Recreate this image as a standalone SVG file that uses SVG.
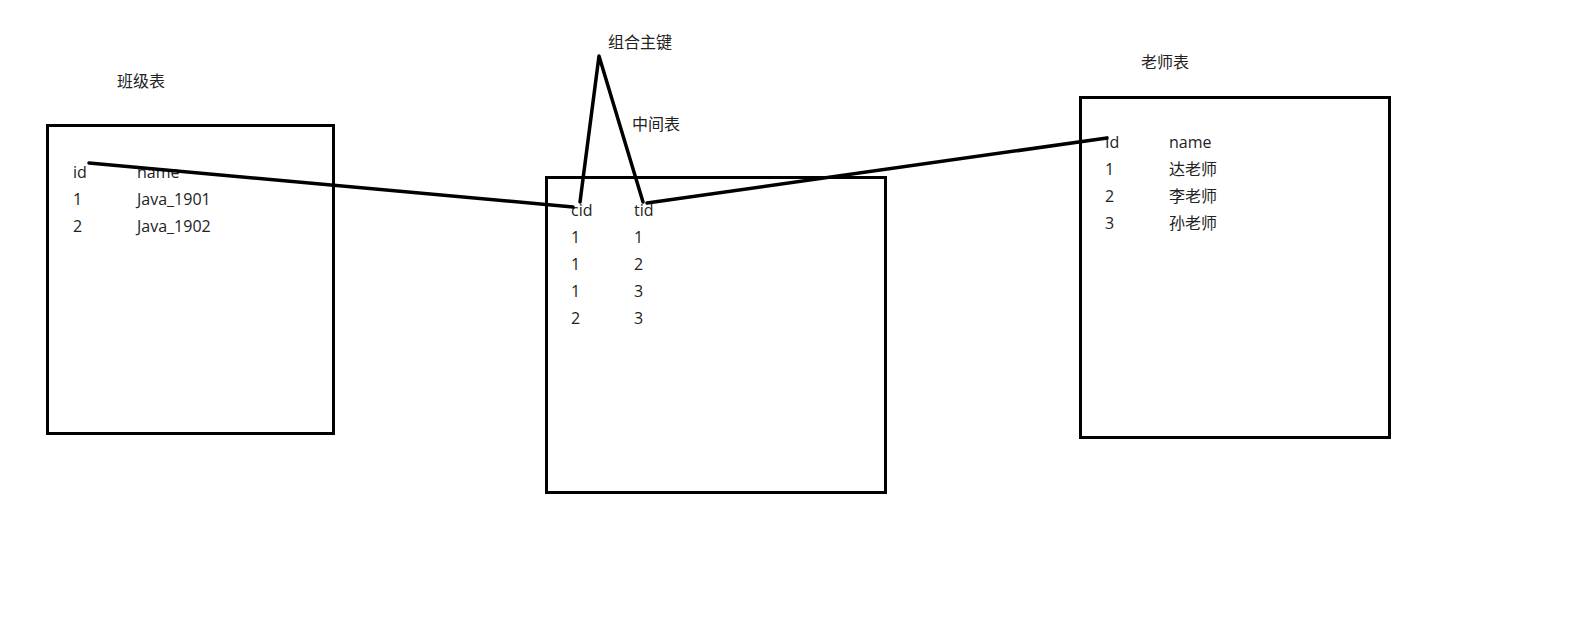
<svg xmlns="http://www.w3.org/2000/svg" width="1573" height="643" viewBox="0 0 1573 643">
<style>
.box{fill:none;stroke:#000;stroke-width:3}
.t{font-family:"Open Sans","Noto Sans CJK SC",sans-serif;font-size:16px;fill:#222}
.c{stroke:#000;stroke-width:3.5;fill:none;stroke-linecap:round;stroke-linejoin:round}
</style>
<rect width="1573" height="643" fill="#fff"/>
<g id="class-table">
<rect class="box" x="47.5" y="125.5" width="286" height="308"/>
<text class="t" x="117" y="87">班级表</text>
<text class="t" x="73" y="178">id</text>
<text class="t" x="137" y="178">name</text>
<text class="t" x="73" y="205">1</text>
<text class="t" x="137" y="205">Java_1901</text>
<text class="t" x="73" y="232">2</text>
<text class="t" x="137" y="232">Java_1902</text>
</g>
<g id="middle-table">
<rect class="box" x="546.5" y="177.5" width="339" height="315"/>
<text class="t" x="632" y="130">中间表</text>
<text class="t" x="571" y="216">cid</text>
<text class="t" x="634" y="216">tid</text>
<text class="t" x="571" y="243">1</text><text class="t" x="634" y="243">1</text>
<text class="t" x="571" y="270">1</text><text class="t" x="634" y="270">2</text>
<text class="t" x="571" y="297">1</text><text class="t" x="634" y="297">3</text>
<text class="t" x="571" y="324">2</text><text class="t" x="634" y="324">3</text>
</g>
<g id="teacher-table">
<rect class="box" x="1080.5" y="97.5" width="309" height="340"/>
<text class="t" x="1141" y="68">老师表</text>
<text class="t" x="1105" y="148">Id</text>
<text class="t" x="1169" y="148">name</text>
<text class="t" x="1105" y="175">1</text><text class="t" x="1169" y="175">达老师</text>
<text class="t" x="1105" y="202">2</text><text class="t" x="1169" y="202">李老师</text>
<text class="t" x="1105" y="229">3</text><text class="t" x="1169" y="229">孙老师</text>
</g>
<g id="composite-key-label">
<text class="t" x="608" y="48">组合主键</text>
</g>
<g id="connectors">
<polyline class="c" points="89,163 573,207"/>
<polyline class="c" points="580,202 599,56 643,202"/>
<polyline class="c" points="647,203 1107,138"/>
</g>
</svg>
